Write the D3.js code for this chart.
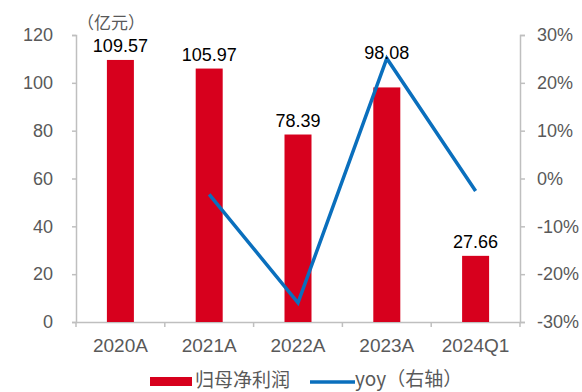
<!DOCTYPE html>
<html>
<head>
<meta charset="utf-8">
<script src="https://cdn.jsdelivr.net/npm/d3@7/dist/d3.min.js"></script>
<style>
  body { margin: 0; background: #fff; }
  text { font-family: "Liberation Sans", Arial, sans-serif; }
</style>
</head>
<body>
<svg id="chart" width="582" height="392"></svg>
<script>
// data
var categories = ["2020A", "2021A", "2022A", "2023A", "2024Q1"];
var profit = [109.57, 105.97, 78.39, 98.08, 27.66];
var yoy = [null, -3.3, -26.0, 25.1, -2.6];
var leftTicks = [0, 20, 40, 60, 80, 100, 120];
var rightTicks = [-30, -20, -10, 0, 10, 20, 30];

var svg = d3.select("#chart"),
  margin = {top: 35, left: 76, bottom: 70, right: 62},
  width = 582 - margin.left - margin.right,
  height = 392 - margin.top - margin.bottom;

var g = svg.append("g").attr("transform", "translate(" + margin.left + "," + margin.top + ")");

var x = d3.scaleBand().domain(categories).range([0, width]);
var y = d3.scaleLinear().domain([0, 120]).range([height, 0]);
var y2 = d3.scaleLinear().domain([-30, 30]).range([height, 0]);

var axisColor = "#bfbfbf", tickText = "#595959";
var cjk = "'Noto Sans CJK SC', sans-serif";

// left axis
var yAxis = g.append("g")
  .call(d3.axisLeft(y).tickValues(leftTicks).tickSize(4).tickPadding(19));
// right axis
var y2Axis = g.append("g").attr("transform", "translate(" + width + ",0)")
  .call(d3.axisRight(y2).tickValues(rightTicks).tickSize(5).tickPadding(12).tickFormat(function(d){ return d + "%"; }));
// bottom axis, ticks at band edges
var xAxis = g.append("g").attr("transform", "translate(0," + height + ")")
  .call(d3.axisBottom(x).tickSize(0).tickPadding(17));
xAxis.selectAll(".edge")
  .data(d3.range(categories.length + 1))
  .enter().append("line")
  .attr("class", "edge")
  .attr("x1", function(i){ return i * x.step(); })
  .attr("x2", function(i){ return i * x.step(); })
  .attr("y1", 0).attr("y2", 5)
  .attr("stroke", axisColor).attr("stroke-width", 1.5);

[yAxis, y2Axis, xAxis].forEach(function(a){
  a.select(".domain").attr("stroke", axisColor).attr("stroke-width", 1.5);
  a.selectAll(".tick line").attr("stroke", axisColor).attr("stroke-width", 1.5);
  a.selectAll(".tick text").attr("fill", tickText).style("font-size", "18px")
    .style("font-family", "'Liberation Sans', Arial, sans-serif");
});
xAxis.selectAll(".tick text").style("font-size", "19px");

// bars
var barW = 27;
g.selectAll(".bar")
  .data(profit)
  .enter().append("rect")
  .attr("class", "bar")
  .attr("x", function(d, i){ return x(categories[i]) + x.bandwidth() / 2 - barW / 2; })
  .attr("y", function(d){ return y(d); })
  .attr("width", barW)
  .attr("height", function(d){ return height - y(d); })
  .attr("fill", "#d7001d");

// yoy line
var pts = yoy.map(function(v, i){ return {c: categories[i], v: v}; }).filter(function(d){ return d.v !== null; });
var line = d3.line()
  .x(function(d){ return x(d.c) + x.bandwidth() / 2; })
  .y(function(d){ return y2(d.v); });
g.append("path")
  .datum(pts)
  .attr("d", line)
  .attr("fill", "none")
  .attr("stroke", "#0a6fbd")
  .attr("stroke-width", 3.5);

// value labels (pushed above the line where it crosses just over a bar)
g.selectAll(".val")
  .data(profit)
  .enter().append("text")
  .attr("class", "val")
  .attr("x", function(d, i){ return x(categories[i]) + x.bandwidth() / 2; })
  .attr("y", function(d, i){
    var top = y(d) - 8;
    if (yoy[i] !== null) {
      var ly = y2(yoy[i]);
      if (ly < y(d) && y(d) - ly < 40) top = ly + 1;
    }
    return top;
  })
  .attr("text-anchor", "middle")
  .attr("fill", "#000")
  .style("font-size", "18px")
  .text(function(d){ return d.toFixed(2); });

// unit
svg.append("text")
  .attr("x", 77).attr("y", 29)
  .attr("fill", tickText)
  .style("font-size", "17px")
  .style("font-family", cjk)
  .text("（亿元）");

// legend
var lg = svg.append("g").attr("transform", "translate(0,382)");
lg.append("rect").attr("x", 150).attr("y", -5).attr("width", 42).attr("height", 9).attr("fill", "#d7001d");
lg.append("text").attr("x", 195).attr("y", 5).attr("fill", tickText)
  .style("font-size", "19px").style("font-family", cjk)
  .text("归母净利润");
lg.append("line").attr("x1", 310).attr("x2", 355).attr("y1", 0).attr("y2", 0)
  .attr("stroke", "#0a6fbd").attr("stroke-width", 3.5);
lg.append("text").attr("x", 355).attr("y", 4).attr("fill", tickText)
  .style("font-size", "19px").style("font-family", cjk)
  .text("yoy（右轴）");
</script>
</body>
</html>
